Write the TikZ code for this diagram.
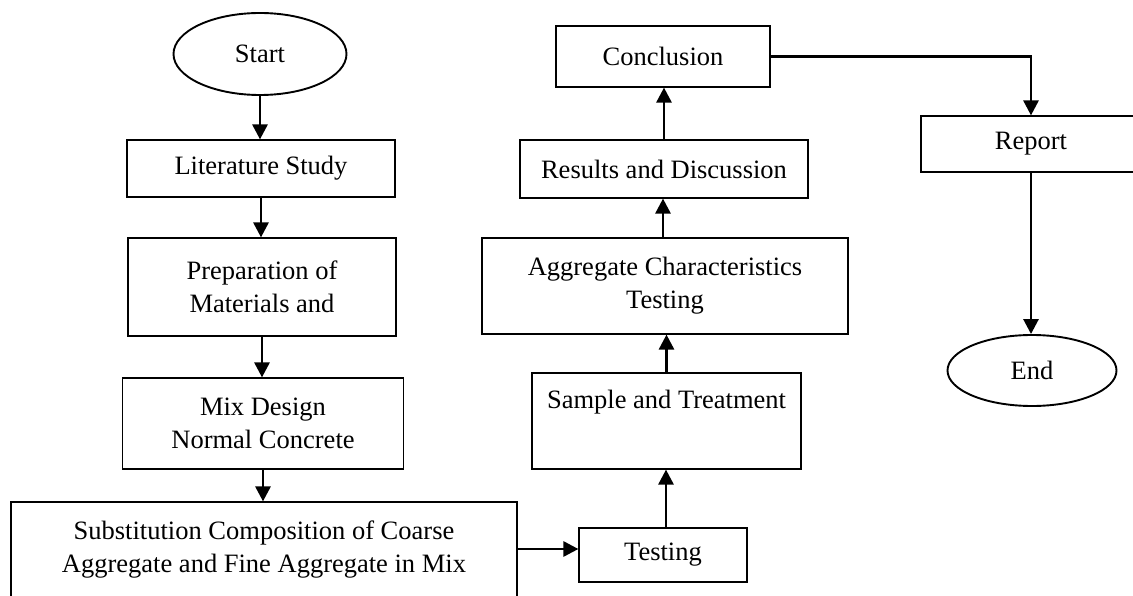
\documentclass[tikz,border=0pt]{standalone}
\usepackage{fontspec}
\setmainfont{Liberation Serif}
\usetikzlibrary{arrows.meta,shapes.geometric}
\begin{document}
\begin{tikzpicture}[x=1pt,y=-1pt,
  txt/.style={font=\fontsize{26.5}{33}\selectfont},
  box/.style={draw,line width=1.2pt,inner sep=0pt,align=center,txt},
  oval/.style={draw,ellipse,line width=1.9pt,inner sep=0pt,txt},
  arr/.style={line width=2.8pt,-{Triangle[length=15pt,width=15pt]}}]
\useasboundingbox (0,0) rectangle (1133,596);
% left column
\node[oval,minimum width=173pt,minimum height=82pt] (start) at (260,54) {Start};
\node[box,minimum width=268pt,minimum height=57pt] (lit) at (261,168.5) {Literature Study};
\node[box,minimum width=268pt,minimum height=98pt] (prep) at (262,287) {Preparation of\\Materials and};
\node[box,minimum width=281.5pt,minimum height=91pt] (mix) at (263,423.5) {Mix Design\\Normal Concrete};
\node[box,minimum width=506pt,minimum height=96pt] (sub) at (264,550) {Substitution Composition of Coarse\\Aggregate and Fine Aggregate in Mix};
% right column
\node[box,minimum width=168pt,minimum height=54pt] (tst) at (663,555) {Testing};
\node[box,minimum width=269pt,minimum height=96pt] (smp) at (666.5,421) {Sample and Treatment\\\strut};
\node[box,minimum width=366pt,minimum height=96pt] (agg) at (665,286) {Aggregate Characteristics\\Testing};
\node[box,minimum width=288pt,minimum height=58pt] (res) at (664,169) {Results and Discussion};
\node[box,minimum width=214pt,minimum height=61pt] (con) at (663,56.5) {Conclusion};
\node[box,minimum width=220pt,minimum height=56pt] (rep) at (1031,144) {Report};
\node[oval,minimum width=169pt,minimum height=71pt] (fin) at (1032,370.5) {End};
% connectors
\draw[arr] (start.south) -- (start.south |- lit.north);
\draw[arr] (lit.south) -- (lit.south |- prep.north);
\draw[arr] (prep.south) -- (prep.south |- mix.north);
\draw[arr] (mix.south) -- (mix.south |- sub.north);
\draw[arr] ([yshift=6pt]tst.west -| sub.east) -- ([yshift=6pt]tst.west);
\draw[arr] ([xshift=3pt]tst.north) -- ([xshift=3pt]tst.north |- smp.south);
\draw[arr] (smp.north) -- (smp.north |- agg.south);
\draw[arr] ([xshift=-2pt]agg.north) -- ([xshift=-2pt]agg.north |- res.south);
\draw[arr] (res.north) -- (res.north |- con.south);
\draw[arr] (con.east) -| (rep.north);
\draw[arr] (rep.south) -- (rep.south |- fin.north);
\end{tikzpicture}
\end{document}
